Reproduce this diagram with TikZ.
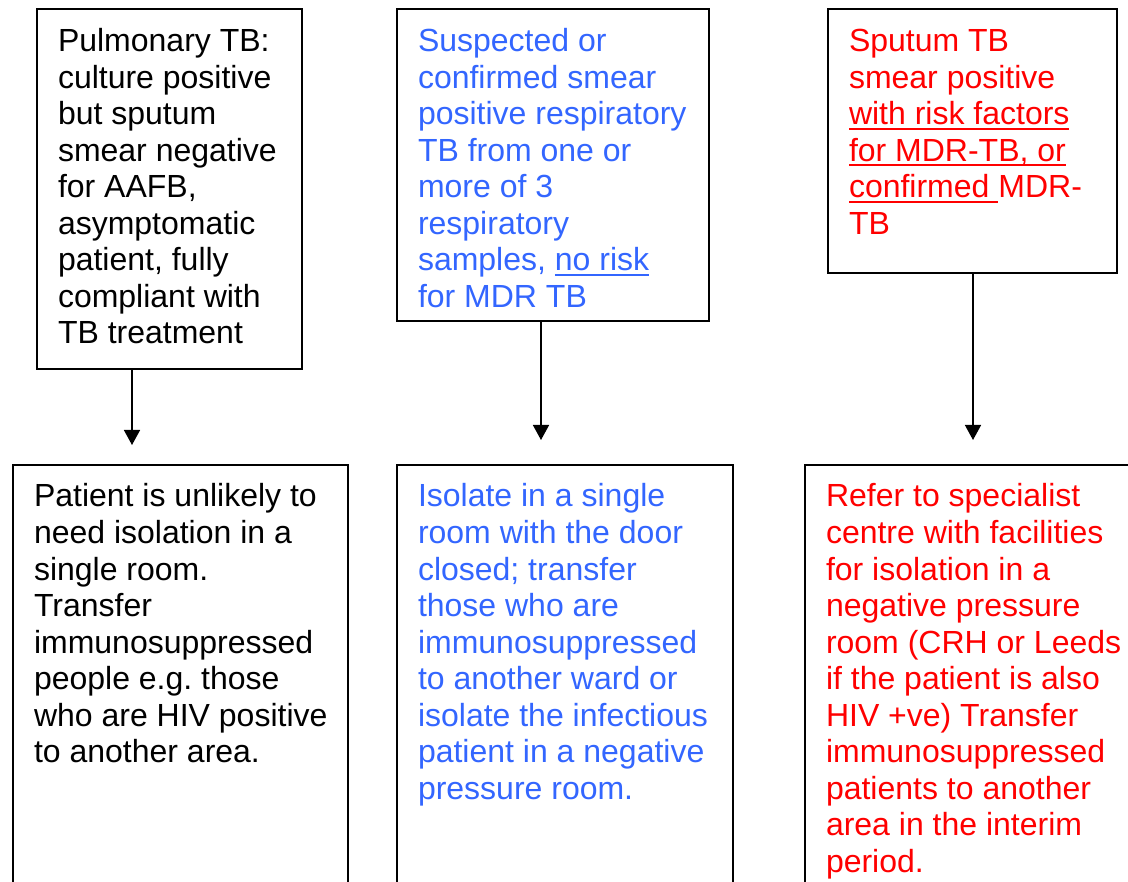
\documentclass[tikz,border=0pt]{standalone}
\usepackage{fontspec}
\setmainfont{Liberation Sans}
\usetikzlibrary{arrows.meta}
\definecolor{tbblue}{RGB}{51,102,255}
\definecolor{tbred}{RGB}{255,0,0}
\newsavebox\ulsbox
\newcommand\ulx[1]{\sbox\ulsbox{#1}\rlap{\rule[-5pt]{\wd\ulsbox}{2pt}}\usebox\ulsbox}
\newcommand\boxtxt[4]{\parbox[t][#2][t]{#1}{\fontsize{32pt}{36.55pt}\selectfont\frenchspacing\leftskip=21pt\rightskip=-100pt plus 1fil\parindent=0pt\rule{0pt}{#3}#4\par}}
\tikzset{
  tbbox/.style={draw=black, line width=2pt, inner sep=0pt, outer sep=0pt, anchor=north west},
  arr/.style={line width=1.5pt, -{Triangle[width=16pt,length=15pt]}}
}
\begin{document}
\begin{tikzpicture}[x=1pt,y=-1pt]
\useasboundingbox (0,0) rectangle (1128,882);
\clip (0,0) rectangle (1128,882);
\fill[white] (0,0) rectangle (1128,882);
% top row
\node[tbbox, text=black] (b1) at (37,9) {\boxtxt{265pt}{360pt}{42.5pt}{Pulmonary TB:\\culture positive\\but sputum\\smear negative\\for AAFB,\\asymptomatic\\patient, fully\\compliant with\\TB treatment}};
\node[tbbox, text=tbblue] (b2) at (397,9) {\boxtxt{312pt}{312pt}{42.5pt}{Suspected or\\confirmed smear\\positive respiratory\\TB from one or\\more of 3\\respiratory\\samples, \ulx{no risk}\\for MDR TB}};
\node[tbbox, text=tbred] (b3) at (828,9) {\boxtxt{289pt}{264pt}{42.5pt}{Sputum TB\\smear positive\\\ulx{with risk factors}\\\ulx{for MDR-TB, or}\\\ulx{confirmed\ }MDR-\\TB}};
% bottom row
\node[tbbox, text=black] (b4) at (13,465) {\boxtxt{335pt}{480pt}{42pt}{Patient is unlikely to\\need isolation in a\\single room.\\Transfer\\immunosuppressed\\people e.g. those\\who are HIV positive\\to another area.}};
\node[tbbox, text=tbblue] (b5) at (397,465) {\boxtxt{336pt}{480pt}{42pt}{Isolate in a single\\room with the door\\closed; transfer\\those who are\\immunosuppressed\\to another ward or\\isolate the infectious\\patient in a negative\\pressure room.}};
\node[tbbox, text=tbred] (b6) at (805,465) {\boxtxt{400pt}{480pt}{42pt}{Refer to specialist\\centre with facilities\\for isolation in a\\negative pressure\\room (CRH or Leeds\\if the patient is also\\HIV +ve) Transfer\\immunosuppressed\\patients to another\\area in the interim\\period.}};
% arrows
\coordinate (t1) at (132,445);
\coordinate (t2) at (541,440);
\coordinate (t3) at (973,440);
\draw[arr] (t1 |- b1.south) -- (t1);
\draw[arr] (t2 |- b2.south) -- (t2);
\draw[arr] (t3 |- b3.south) -- (t3);
\end{tikzpicture}
\end{document}
